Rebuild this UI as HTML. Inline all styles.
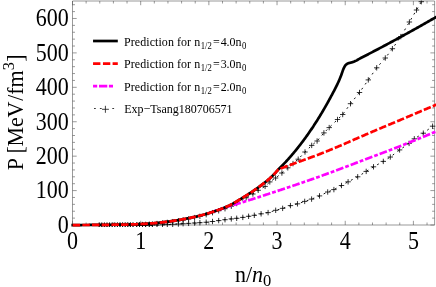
<!DOCTYPE html>
<html><head><meta charset="utf-8"><title>plot</title><style>
html,body{margin:0;padding:0;background:#fff;}
body{width:436px;height:287px;overflow:hidden;font-family:"Liberation Serif",serif;}
svg{display:block;will-change:transform;opacity:0.999}
text{font-family:"Liberation Serif",serif;fill:#000}
</style></head><body>
<svg width="436" height="287" viewBox="0 0 436 287">
<rect width="436" height="287" fill="#fff"/>
<defs><clipPath id="c"><rect x="70.5" y="0.5" width="365.5" height="226.5"/></clipPath></defs>
<!-- frame -->
<g fill="none" stroke="#555" stroke-width="0.6">
<path d="M72.5,1.0H434.6V225.0H72.5Z"/>
<path d="M72.50,225.0v-4.2M72.50,1.0v4.2M86.14,225.0v-2.5M86.14,1.0v2.5M99.77,225.0v-2.5M99.77,1.0v2.5M113.41,225.0v-2.5M113.41,1.0v2.5M127.04,225.0v-2.5M127.04,1.0v2.5M140.68,225.0v-4.2M140.68,1.0v4.2M154.32,225.0v-2.5M154.32,1.0v2.5M167.95,225.0v-2.5M167.95,1.0v2.5M181.59,225.0v-2.5M181.59,1.0v2.5M195.22,225.0v-2.5M195.22,1.0v2.5M208.86,225.0v-4.2M208.86,1.0v4.2M222.50,225.0v-2.5M222.50,1.0v2.5M236.13,225.0v-2.5M236.13,1.0v2.5M249.77,225.0v-2.5M249.77,1.0v2.5M263.40,225.0v-2.5M263.40,1.0v2.5M277.04,225.0v-4.2M277.04,1.0v4.2M290.68,225.0v-2.5M290.68,1.0v2.5M304.31,225.0v-2.5M304.31,1.0v2.5M317.95,225.0v-2.5M317.95,1.0v2.5M331.58,225.0v-2.5M331.58,1.0v2.5M345.22,225.0v-4.2M345.22,1.0v4.2M358.86,225.0v-2.5M358.86,1.0v2.5M372.49,225.0v-2.5M372.49,1.0v2.5M386.13,225.0v-2.5M386.13,1.0v2.5M399.76,225.0v-2.5M399.76,1.0v2.5M413.40,225.0v-4.2M413.40,1.0v4.2M427.04,225.0v-2.5M427.04,1.0v2.5M72.5,225.00h4.2M434.6,225.00h-4.2M72.5,218.12h2.5M434.6,218.12h-2.5M72.5,211.23h2.5M434.6,211.23h-2.5M72.5,204.35h2.5M434.6,204.35h-2.5M72.5,197.46h2.5M434.6,197.46h-2.5M72.5,190.58h4.2M434.6,190.58h-4.2M72.5,183.70h2.5M434.6,183.70h-2.5M72.5,176.81h2.5M434.6,176.81h-2.5M72.5,169.93h2.5M434.6,169.93h-2.5M72.5,163.04h2.5M434.6,163.04h-2.5M72.5,156.16h4.2M434.6,156.16h-4.2M72.5,149.28h2.5M434.6,149.28h-2.5M72.5,142.39h2.5M434.6,142.39h-2.5M72.5,135.51h2.5M434.6,135.51h-2.5M72.5,128.62h2.5M434.6,128.62h-2.5M72.5,121.74h4.2M434.6,121.74h-4.2M72.5,114.86h2.5M434.6,114.86h-2.5M72.5,107.97h2.5M434.6,107.97h-2.5M72.5,101.09h2.5M434.6,101.09h-2.5M72.5,94.20h2.5M434.6,94.20h-2.5M72.5,87.32h4.2M434.6,87.32h-4.2M72.5,80.44h2.5M434.6,80.44h-2.5M72.5,73.55h2.5M434.6,73.55h-2.5M72.5,66.67h2.5M434.6,66.67h-2.5M72.5,59.78h2.5M434.6,59.78h-2.5M72.5,52.90h4.2M434.6,52.90h-4.2M72.5,46.02h2.5M434.6,46.02h-2.5M72.5,39.13h2.5M434.6,39.13h-2.5M72.5,32.25h2.5M434.6,32.25h-2.5M72.5,25.36h2.5M434.6,25.36h-2.5M72.5,18.48h4.2M434.6,18.48h-4.2M72.5,11.60h2.5M434.6,11.60h-2.5M72.5,4.71h2.5M434.6,4.71h-2.5"/>
</g>
<!-- tick labels -->
<g font-size="22"><text transform="translate(72.50,248.9) scale(1,1.1)" text-anchor="middle">0</text><text transform="translate(140.68,248.9) scale(1,1.1)" text-anchor="middle">1</text><text transform="translate(208.86,248.9) scale(1,1.1)" text-anchor="middle">2</text><text transform="translate(277.04,248.9) scale(1,1.1)" text-anchor="middle">3</text><text transform="translate(345.22,248.9) scale(1,1.1)" text-anchor="middle">4</text><text transform="translate(413.40,248.9) scale(1,1.1)" text-anchor="middle">5</text><text transform="translate(68.7,232.90) scale(1,1.1)" text-anchor="end">0</text><text transform="translate(68.7,198.48) scale(1,1.1)" text-anchor="end">100</text><text transform="translate(68.7,164.06) scale(1,1.1)" text-anchor="end">200</text><text transform="translate(68.7,129.64) scale(1,1.1)" text-anchor="end">300</text><text transform="translate(68.7,95.22) scale(1,1.1)" text-anchor="end">400</text><text transform="translate(68.7,60.80) scale(1,1.1)" text-anchor="end">500</text><text transform="translate(68.7,26.38) scale(1,1.1)" text-anchor="end">600</text></g>
<!-- axis labels -->
<text font-size="22" transform="translate(235,282.3) scale(1,1.05)">n/<tspan font-style="italic">n</tspan><tspan font-size="16.5" dy="3.5">0</tspan></text>
<text font-size="22" transform="translate(23,170.2) rotate(-90) scale(1,1.07)">P<tspan dx="-1.1"> [</tspan><tspan dx="-0.3">Me</tspan><tspan dx="-0.3">V</tspan><tspan dx="0.8">/fm</tspan><tspan font-size="16.5" dy="-8.7">3</tspan><tspan dy="8.7" dx="0.2">]</tspan></text>
<!-- curves -->
<g clip-path="url(#c)" fill="none" stroke-linejoin="round">
<path d="M99.20,225.50 L101.80,225.50 L104.40,225.50 L107.00,225.50 L109.60,225.50 L112.20,225.50 L114.80,225.50 L117.40,225.50 L120.00,225.50 L122.60,225.50 L125.20,225.50 L127.80,225.50 L130.40,225.50 L133.00,225.50 L136.70,225.50 L139.50,225.50 L142.50,225.44 L145.60,225.36 L149.30,225.27 L152.40,225.14 L157.00,225.02 L162.50,224.80 L167.30,224.60 L172.70,224.30 L178.40,224.00 L183.10,223.70 L188.60,223.35 L194.60,223.00 L199.90,222.70 L206.20,222.25 L212.50,221.50 L218.70,220.60 L225.00,219.70 L231.30,218.90 L236.70,218.30 L242.80,217.40 L248.60,216.30 L254.30,215.30 L261.10,213.80 L268.10,212.60 L275.70,210.30 L282.64,208.35 L290.45,205.61 L297.46,203.84 L304.70,201.40 L311.60,199.10 L319.50,195.90 L327.70,192.00 L333.90,189.60 L341.50,185.50 L348.10,181.80 L357.70,176.80 L366.20,171.40 L373.50,166.80 L383.30,161.40 L390.30,157.00 L399.60,149.90 L409.10,143.40 L414.30,138.80 L423.30,133.20 L432.60,126.20" stroke="#000" stroke-width="0.95" stroke-dasharray="1.9 4.2" stroke-dashoffset="3.34"/>
<path d="M99.20,225.18 L101.80,225.15 L104.40,225.13 L107.00,225.10 L109.60,225.07 L112.20,225.04 L114.80,225.00 L117.40,224.97 L120.00,224.93 L122.60,224.93 L125.20,224.92 L127.80,224.90 L130.40,224.88 L133.00,224.84 L136.70,224.75 L139.50,224.66 L142.50,224.55 L145.60,224.41 L149.30,224.23 L152.40,224.01 L157.00,223.58 L162.50,222.99 L167.30,222.42 L172.70,221.67 L178.40,220.76 L183.10,219.94 L188.60,218.89 L194.60,217.61 L199.90,216.35 L206.20,214.65 L212.50,212.67 L218.70,210.77 L225.00,208.72 L231.30,206.21 L236.70,203.51 L246.20,197.80 L252.90,194.00 L258.20,190.30 L265.10,186.40 L269.80,181.90 L275.60,178.00 L281.90,173.00 L287.80,167.80 L293.00,163.60 L298.20,159.20 L305.00,152.00 L311.70,145.40 L317.10,141.00 L323.90,132.90 L329.20,127.60 L337.50,119.50 L342.70,114.50 L350.50,103.70 L359.50,92.50 L368.30,79.90 L376.70,67.80 L385.30,58.00 L392.40,48.70 L400.80,36.60 L409.40,22.00 L416.50,10.00 L421.30,1.70" stroke="#000" stroke-width="0.95" stroke-dasharray="1.9 4.2"/>
<path d="M96.50,225.50H101.90M99.20,222.80V228.20M99.10,225.50H104.50M101.80,222.80V228.20M101.70,225.50H107.10M104.40,222.80V228.20M104.30,225.50H109.70M107.00,222.80V228.20M106.90,225.50H112.30M109.60,222.80V228.20M109.50,225.50H114.90M112.20,222.80V228.20M112.10,225.50H117.50M114.80,222.80V228.20M114.70,225.50H120.10M117.40,222.80V228.20M117.30,225.50H122.70M120.00,222.80V228.20M119.90,225.50H125.30M122.60,222.80V228.20M122.50,225.50H127.90M125.20,222.80V228.20M125.10,225.50H130.50M127.80,222.80V228.20M127.70,225.50H133.10M130.40,222.80V228.20M130.30,225.50H135.70M133.00,222.80V228.20M134.00,225.50H139.40M136.70,222.80V228.20M136.80,225.50H142.20M139.50,222.80V228.20M139.80,225.44H145.20M142.50,222.74V228.14M142.90,225.36H148.30M145.60,222.66V228.06M146.60,225.27H152.00M149.30,222.57V227.97M149.70,225.14H155.10M152.40,222.44V227.84M154.30,225.02H159.70M157.00,222.32V227.72M159.80,224.80H165.20M162.50,222.10V227.50M164.60,224.60H170.00M167.30,221.90V227.30M170.00,224.30H175.40M172.70,221.60V227.00M175.70,224.00H181.10M178.40,221.30V226.70M180.40,223.70H185.80M183.10,221.00V226.40M185.90,223.35H191.30M188.60,220.65V226.05M191.90,223.00H197.30M194.60,220.30V225.70M197.20,222.70H202.60M199.90,220.00V225.40M203.50,222.25H208.90M206.20,219.55V224.95M209.80,221.50H215.20M212.50,218.80V224.20M216.00,220.60H221.40M218.70,217.90V223.30M222.30,219.70H227.70M225.00,217.00V222.40M228.60,218.90H234.00M231.30,216.20V221.60M234.00,218.30H239.40M236.70,215.60V221.00M240.10,217.40H245.50M242.80,214.70V220.10M245.90,216.30H251.30M248.60,213.60V219.00M251.60,215.30H257.00M254.30,212.60V218.00M258.40,213.80H263.80M261.10,211.10V216.50M265.40,212.60H270.80M268.10,209.90V215.30M273.00,210.30H278.40M275.70,207.60V213.00M279.94,208.35H285.34M282.64,205.65V211.05M287.75,205.61H293.15M290.45,202.91V208.31M294.76,203.84H300.16M297.46,201.14V206.54M302.00,201.40H307.40M304.70,198.70V204.10M308.90,199.10H314.30M311.60,196.40V201.80M316.80,195.90H322.20M319.50,193.20V198.60M325.00,192.00H330.40M327.70,189.30V194.70M331.20,189.60H336.60M333.90,186.90V192.30M338.80,185.50H344.20M341.50,182.80V188.20M345.40,181.80H350.80M348.10,179.10V184.50M355.00,176.80H360.40M357.70,174.10V179.50M363.50,171.40H368.90M366.20,168.70V174.10M370.80,166.80H376.20M373.50,164.10V169.50M380.60,161.40H386.00M383.30,158.70V164.10M387.60,157.00H393.00M390.30,154.30V159.70M396.90,149.90H402.30M399.60,147.20V152.60M406.40,143.40H411.80M409.10,140.70V146.10M411.60,138.80H417.00M414.30,136.10V141.50M420.60,133.20H426.00M423.30,130.50V135.90M429.90,126.20H435.30M432.60,123.50V128.90M96.50,225.18H101.90M99.20,222.48V227.88M99.10,225.15H104.50M101.80,222.45V227.85M101.70,225.13H107.10M104.40,222.43V227.83M104.30,225.10H109.70M107.00,222.40V227.80M106.90,225.07H112.30M109.60,222.37V227.77M109.50,225.04H114.90M112.20,222.34V227.74M112.10,225.00H117.50M114.80,222.30V227.70M114.70,224.97H120.10M117.40,222.27V227.67M117.30,224.93H122.70M120.00,222.23V227.63M119.90,224.93H125.30M122.60,222.23V227.63M122.50,224.92H127.90M125.20,222.22V227.62M125.10,224.90H130.50M127.80,222.20V227.60M127.70,224.88H133.10M130.40,222.18V227.58M130.30,224.84H135.70M133.00,222.14V227.54M134.00,224.75H139.40M136.70,222.05V227.45M136.80,224.66H142.20M139.50,221.96V227.36M139.80,224.55H145.20M142.50,221.85V227.25M142.90,224.41H148.30M145.60,221.71V227.11M146.60,224.23H152.00M149.30,221.53V226.93M149.70,224.01H155.10M152.40,221.31V226.71M154.30,223.58H159.70M157.00,220.88V226.28M159.80,222.99H165.20M162.50,220.29V225.69M164.60,222.42H170.00M167.30,219.72V225.12M170.00,221.67H175.40M172.70,218.97V224.37M175.70,220.76H181.10M178.40,218.06V223.46M180.40,219.94H185.80M183.10,217.24V222.64M185.90,218.89H191.30M188.60,216.19V221.59M191.90,217.61H197.30M194.60,214.91V220.31M197.20,216.35H202.60M199.90,213.65V219.05M203.50,214.65H208.90M206.20,211.95V217.35M209.80,212.67H215.20M212.50,209.97V215.37M216.00,210.77H221.40M218.70,208.07V213.47M222.30,208.72H227.70M225.00,206.02V211.42M228.60,206.21H234.00M231.30,203.51V208.91M234.00,203.51H239.40M236.70,200.81V206.21M243.50,197.80H248.90M246.20,195.10V200.50M250.20,194.00H255.60M252.90,191.30V196.70M255.50,190.30H260.90M258.20,187.60V193.00M262.40,186.40H267.80M265.10,183.70V189.10M267.10,181.90H272.50M269.80,179.20V184.60M272.90,178.00H278.30M275.60,175.30V180.70M279.20,173.00H284.60M281.90,170.30V175.70M285.10,167.80H290.50M287.80,165.10V170.50M290.30,163.60H295.70M293.00,160.90V166.30M295.50,159.20H300.90M298.20,156.50V161.90M302.30,152.00H307.70M305.00,149.30V154.70M309.00,145.40H314.40M311.70,142.70V148.10M314.40,141.00H319.80M317.10,138.30V143.70M321.20,132.90H326.60M323.90,130.20V135.60M326.50,127.60H331.90M329.20,124.90V130.30M334.80,119.50H340.20M337.50,116.80V122.20M340.00,114.50H345.40M342.70,111.80V117.20M347.80,103.70H353.20M350.50,101.00V106.40M356.80,92.50H362.20M359.50,89.80V95.20M365.60,79.90H371.00M368.30,77.20V82.60M374.00,67.80H379.40M376.70,65.10V70.50M382.60,58.00H388.00M385.30,55.30V60.70M389.70,48.70H395.10M392.40,46.00V51.40M398.10,36.60H403.50M400.80,33.90V39.30M406.70,22.00H412.10M409.40,19.30V24.70M413.80,10.00H419.20M416.50,7.30V12.70M418.60,1.70H424.00M421.30,-1.00V4.40" stroke="#000" stroke-width="0.8"/>
<path d="M209.50,212.90 L210.50,212.56 L211.50,212.21 L212.50,211.87 L213.50,211.53 L214.50,211.19 L215.50,210.85 L216.50,210.51 L217.50,210.18 L218.50,209.84 L219.50,209.51 L220.50,209.18 L221.50,208.85 L222.50,208.52 L223.50,208.19 L224.50,207.86 L225.50,207.54 L226.50,207.22 L227.50,206.90 L228.50,206.58 L229.50,206.26 L230.50,205.95 L231.50,205.64 L232.50,205.32 L233.50,205.01 L234.50,204.71 L235.50,204.40 L236.50,204.09 L237.50,203.78 L238.50,203.47 L239.50,203.17 L240.50,202.86 L241.50,202.55 L242.50,202.24 L243.50,201.94 L244.50,201.63 L245.50,201.31 L246.50,201.00 L247.50,200.69 L248.50,200.38 L249.50,200.06 L250.50,199.74 L251.50,199.42 L252.50,199.10 L253.50,198.78 L254.50,198.46 L255.50,198.14 L256.50,197.82 L257.50,197.50 L258.50,197.17 L259.50,196.85 L260.50,196.53 L261.50,196.20 L262.50,195.88 L263.50,195.55 L264.50,195.23 L265.50,194.90 L266.50,194.57 L267.50,194.25 L268.50,193.92 L269.50,193.59 L270.50,193.26 L271.50,192.93 L272.50,192.60 L273.50,192.27 L274.50,191.94 L275.50,191.60 L276.50,191.27 L277.50,190.94 L278.50,190.61 L279.50,190.28 L280.50,189.94 L281.50,189.61 L282.50,189.28 L283.50,188.95 L284.50,188.61 L285.50,188.28 L286.50,187.94 L287.50,187.61 L288.50,187.27 L289.50,186.94 L290.50,186.60 L291.50,186.26 L292.50,185.93 L293.50,185.59 L294.50,185.25 L295.50,184.91 L296.50,184.57 L297.50,184.23 L298.50,183.89 L299.50,183.55 L300.50,183.21 L301.50,182.86 L302.50,182.52 L303.50,182.18 L304.50,181.83 L305.50,181.48 L306.50,181.14 L307.50,180.79 L308.50,180.44 L309.50,180.09 L310.50,179.74 L311.50,179.39 L312.50,179.04 L313.50,178.69 L314.50,178.33 L315.50,177.98 L316.50,177.62 L317.50,177.26 L318.50,176.91 L319.50,176.55 L320.50,176.18 L321.50,175.82 L322.50,175.46 L323.50,175.10 L324.50,174.73 L325.50,174.37 L326.50,174.00 L327.50,173.63 L328.50,173.26 L329.50,172.90 L330.50,172.53 L331.50,172.16 L332.50,171.79 L333.50,171.42 L334.50,171.05 L335.50,170.67 L336.50,170.30 L337.50,169.93 L338.50,169.56 L339.50,169.19 L340.50,168.81 L341.50,168.44 L342.50,168.07 L343.50,167.69 L344.50,167.31 L345.50,166.94 L346.50,166.56 L347.50,166.18 L348.50,165.80 L349.50,165.42 L350.50,165.04 L351.50,164.66 L352.50,164.27 L353.50,163.89 L354.50,163.51 L355.50,163.13 L356.50,162.75 L357.50,162.37 L358.50,161.98 L359.50,161.60 L360.50,161.22 L361.50,160.84 L362.50,160.46 L363.50,160.08 L364.50,159.70 L365.50,159.33 L366.50,158.95 L367.50,158.57 L368.50,158.19 L369.50,157.82 L370.50,157.44 L371.50,157.06 L372.50,156.69 L373.50,156.31 L374.50,155.94 L375.50,155.56 L376.50,155.18 L377.50,154.81 L378.50,154.43 L379.50,154.06 L380.50,153.68 L381.50,153.30 L382.50,152.93 L383.50,152.55 L384.50,152.17 L385.50,151.79 L386.50,151.41 L387.50,151.03 L388.50,150.65 L389.50,150.27 L390.50,149.89 L391.50,149.50 L392.50,149.12 L393.50,148.73 L394.50,148.35 L395.50,147.96 L396.50,147.57 L397.50,147.18 L398.50,146.79 L399.50,146.40 L400.50,146.00 L401.50,145.61 L402.50,145.21 L403.50,144.82 L404.50,144.42 L405.50,144.02 L406.50,143.62 L407.50,143.22 L408.50,142.82 L409.50,142.42 L410.50,142.02 L411.50,141.62 L412.50,141.21 L413.50,140.81 L414.50,140.40 L415.50,140.00 L416.50,139.59 L417.50,139.18 L418.50,138.78 L419.50,138.37 L420.50,137.96 L421.50,137.55 L422.50,137.14 L423.50,136.72 L424.50,136.31 L425.50,135.90 L426.50,135.48 L427.50,135.07 L428.50,134.65 L429.50,134.24 L430.50,133.82 L431.50,133.40 L432.50,132.98 L433.50,132.56 L434.50,132.14 L435.50,131.72 L436.50,131.30" stroke="#ff00ff" stroke-width="2.7" stroke-dasharray="7.7 2.0 3.8 2.0" stroke-dashoffset="5.91"/>
<path d="M71.40,225.10 L72.40,225.09 L73.40,225.09 L74.40,225.08 L75.40,225.07 L76.40,225.07 L77.40,225.06 L78.40,225.05 L79.40,225.05 L80.40,225.04 L81.40,225.03 L82.40,225.02 L83.40,225.02 L84.40,225.01 L85.40,225.00 L86.40,224.99 L87.40,224.98 L88.40,224.98 L89.40,224.97 L90.40,224.96 L91.40,224.95 L92.40,224.94 L93.40,224.93 L94.40,224.92 L95.40,224.91 L96.40,224.90 L97.40,224.89 L98.40,224.89 L99.40,224.88 L100.40,224.87 L101.40,224.86 L102.40,224.85 L103.40,224.84 L104.40,224.83 L105.40,224.82 L106.40,224.80 L107.40,224.79 L108.40,224.78 L109.40,224.77 L110.40,224.76 L111.40,224.75 L112.40,224.73 L113.40,224.72 L114.40,224.71 L115.40,224.69 L116.40,224.68 L117.40,224.67 L118.40,224.65 L119.40,224.64 L120.40,224.63 L121.40,224.61 L122.40,224.60 L123.40,224.58 L124.40,224.56 L125.40,224.55 L126.40,224.53 L127.40,224.51 L128.40,224.49 L129.40,224.46 L130.40,224.44 L131.40,224.41 L132.40,224.38 L133.40,224.35 L134.40,224.32 L135.40,224.28 L136.40,224.24 L137.40,224.20 L138.40,224.15 L139.40,224.10 L140.40,224.06 L141.40,224.00 L142.40,223.95 L143.40,223.90 L144.40,223.84 L145.40,223.78 L146.40,223.72 L147.40,223.66 L148.40,223.60 L149.40,223.53 L150.40,223.46 L151.40,223.39 L152.40,223.31 L153.40,223.22 L154.40,223.13 L155.40,223.04 L156.40,222.94 L157.40,222.84 L158.40,222.74 L159.40,222.63 L160.40,222.52 L161.40,222.41 L162.40,222.30 L163.40,222.18 L164.40,222.07 L165.40,221.95 L166.40,221.83 L167.40,221.70 L168.40,221.57 L169.40,221.44 L170.40,221.30 L171.40,221.16 L172.40,221.01 L173.40,220.86 L174.40,220.71 L175.40,220.55 L176.40,220.39 L177.40,220.22 L178.40,220.06 L179.40,219.89 L180.40,219.71 L181.40,219.54 L182.40,219.36 L183.40,219.18 L184.40,219.00 L185.40,218.81 L186.40,218.62 L187.40,218.43 L188.40,218.23 L189.40,218.03 L190.40,217.82 L191.40,217.61 L192.40,217.40 L193.40,217.18 L194.40,216.96 L195.40,216.73 L196.40,216.50 L197.40,216.26 L198.40,216.02 L199.40,215.78 L200.40,215.53 L201.40,215.27 L202.40,215.01 L203.40,214.74 L204.40,214.46 L205.40,214.18 L206.40,213.89 L207.40,213.59 L208.40,213.28 L209.40,212.97 L210.40,212.66 L211.40,212.33 L212.40,212.01 L213.40,211.67 L214.40,211.34 L215.40,210.99 L216.40,210.65 L217.40,210.30 L218.40,209.94 L219.40,209.57 L220.40,209.20 L221.40,208.82 L222.40,208.43 L223.40,208.04 L224.40,207.63 L225.40,207.21 L226.40,206.78 L227.40,206.34 L228.40,205.89 L229.40,205.42 L230.40,204.92 L231.40,204.41 L232.40,203.88 L233.40,203.32 L234.40,202.76 L235.40,202.18 L236.40,201.59 L237.40,200.99 L238.40,200.38 L239.40,199.77 L240.40,199.16 L241.40,198.54 L242.40,197.93 L243.40,197.32 L244.40,196.70 L245.40,196.08 L246.40,195.44 L247.40,194.80 L248.40,194.16 L249.40,193.50 L250.40,192.85 L251.40,192.18 L252.40,191.51 L253.40,190.84 L254.40,190.16 L255.40,189.48 L256.40,188.78 L257.40,188.08 L258.40,187.37 L259.40,186.65 L260.40,185.92 L261.40,185.18 L262.40,184.42 L263.40,183.65 L264.40,182.87 L265.40,182.08 L266.40,181.27 L267.40,180.45 L268.40,179.61 L269.40,178.76 L270.40,177.86 L271.40,176.92 L272.40,175.93 L273.40,174.92 L274.40,173.88 L275.40,172.79 L276.40,171.68 L277.40,170.52 L278.30,169.45 L278.80,168.97 L279.30,168.48 L279.80,167.99 L280.30,167.50 L280.80,167.00 L281.30,166.50 L281.80,165.99 L282.30,165.48 L282.80,164.97 L283.30,164.45 L283.80,163.93 L284.30,163.40 L284.80,162.87 L285.30,162.34 L285.80,161.80 L286.30,161.25 L286.80,160.71 L287.30,160.16 L287.80,159.60 L288.30,159.04 L288.80,158.48 L289.30,157.92 L289.80,157.35 L290.30,156.78 L290.80,156.21 L291.30,155.63 L291.80,155.05 L292.30,154.47 L292.80,153.88 L293.30,153.29 L293.80,152.69 L294.30,152.09 L294.80,151.49 L295.30,150.88 L295.80,150.27 L296.30,149.66 L296.80,149.04 L297.30,148.42 L297.80,147.79 L298.30,147.16 L298.80,146.53 L299.30,145.89 L299.80,145.25 L300.30,144.61 L300.80,143.96 L301.30,143.30 L301.80,142.65 L302.30,141.99 L302.80,141.32 L303.30,140.65 L303.80,139.98 L304.30,139.30 L304.80,138.62 L305.30,137.93 L305.80,137.24 L306.30,136.55 L306.80,135.85 L307.30,135.15 L307.80,134.44 L308.30,133.73 L308.80,133.02 L309.30,132.30 L309.80,131.57 L310.30,130.84 L310.80,130.11 L311.30,129.37 L311.80,128.63 L312.30,127.88 L312.80,127.13 L313.30,126.38 L313.80,125.62 L314.30,124.85 L314.80,124.08 L315.30,123.31 L315.80,122.53 L316.30,121.75 L316.80,120.96 L317.30,120.17 L317.80,119.37 L318.30,118.57 L318.80,117.76 L319.30,116.95 L319.80,116.13 L320.30,115.31 L320.80,114.49 L321.30,113.66 L321.80,112.82 L322.30,111.98 L322.80,111.13 L323.30,110.28 L323.80,109.43 L324.30,108.57 L324.80,107.70 L325.30,106.83 L325.80,105.95 L326.30,105.07 L326.80,104.19 L327.30,103.30 L327.80,102.40 L328.30,101.50 L328.80,100.59 L329.30,99.68 L329.80,98.76 L330.30,97.84 L330.80,96.91 L331.30,95.98 L331.80,95.04 L332.30,94.10 L332.80,93.16 L333.30,92.22 L333.80,91.28 L334.30,90.32 L334.80,89.36 L335.30,88.39 L335.80,87.40 L336.30,86.40 L336.80,85.38 L337.30,84.34 L337.80,83.28 L338.30,82.20 L338.80,81.10 L339.30,79.96 L339.80,78.78 L340.30,77.56 L340.80,76.26 L341.30,74.92 L341.80,73.55 L342.30,72.14 L342.80,70.63 L343.30,69.24 L343.80,68.12 L344.30,67.14 L344.80,66.25 L345.30,65.46 L345.80,64.87 L346.30,64.40 L346.80,64.04 L347.30,63.74 L347.80,63.50 L348.30,63.30 L348.80,63.14 L349.30,63.00 L349.80,62.88 L350.30,62.75 L350.80,62.62 L351.30,62.50 L351.80,62.37 L352.30,62.23 L352.80,62.07 L353.30,61.90 L353.80,61.71 L354.30,61.51 L354.80,61.30 L355.30,61.08 L355.80,60.85 L356.30,60.60 L356.80,60.33 L357.30,60.04 L357.80,59.74 L358.30,59.44 L358.80,59.14 L359.30,58.85 L359.80,58.58 L360.30,58.32 L360.80,58.05 L361.30,57.79 L361.80,57.54 L362.30,57.28 L362.80,57.03 L363.30,56.77 L363.80,56.52 L364.30,56.26 L364.80,56.00 L365.30,55.74 L365.80,55.48 L366.30,55.22 L366.80,54.96 L367.30,54.70 L367.80,54.44 L368.30,54.18 L368.80,53.92 L369.30,53.66 L369.80,53.40 L370.30,53.14 L370.80,52.88 L371.30,52.62 L371.80,52.36 L372.30,52.10 L372.80,51.83 L373.30,51.57 L373.80,51.31 L374.30,51.05 L374.80,50.79 L375.30,50.53 L375.80,50.26 L376.30,50.00 L376.80,49.74 L377.30,49.48 L377.80,49.21 L378.30,48.95 L378.80,48.69 L379.30,48.42 L379.80,48.16 L380.30,47.90 L380.80,47.63 L381.30,47.37 L381.80,47.10 L382.30,46.84 L382.80,46.57 L383.30,46.31 L383.80,46.04 L384.30,45.77 L384.80,45.51 L385.30,45.24 L385.80,44.97 L386.30,44.71 L386.80,44.44 L387.30,44.17 L387.80,43.90 L388.30,43.63 L388.80,43.37 L389.30,43.10 L389.80,42.83 L390.30,42.56 L390.80,42.29 L391.30,42.02 L391.80,41.75 L392.30,41.49 L392.80,41.22 L393.30,40.95 L393.80,40.68 L394.30,40.41 L394.80,40.14 L395.30,39.87 L395.80,39.60 L396.30,39.32 L396.80,39.05 L397.30,38.78 L397.80,38.51 L398.30,38.24 L398.80,37.97 L399.30,37.70 L399.80,37.42 L400.30,37.15 L400.80,36.88 L401.30,36.61 L401.80,36.33 L402.30,36.06 L402.80,35.79 L403.30,35.51 L403.80,35.24 L404.30,34.97 L404.80,34.69 L405.30,34.42 L405.80,34.14 L406.30,33.87 L406.80,33.59 L407.30,33.32 L407.80,33.04 L408.30,32.77 L408.80,32.49 L409.30,32.22 L409.80,31.94 L410.30,31.66 L410.80,31.39 L411.30,31.11 L411.80,30.83 L412.30,30.56 L412.80,30.28 L413.30,30.00 L413.80,29.72 L414.30,29.44 L414.80,29.16 L415.30,28.88 L415.80,28.60 L416.30,28.32 L416.80,28.04 L417.30,27.76 L417.80,27.48 L418.30,27.20 L418.80,26.92 L419.30,26.63 L419.80,26.35 L420.30,26.07 L420.80,25.78 L421.30,25.50 L421.80,25.22 L422.30,24.93 L422.80,24.65 L423.30,24.36 L423.80,24.08 L424.30,23.79 L424.80,23.51 L425.30,23.22 L425.80,22.94 L426.30,22.65 L426.80,22.37 L427.30,22.08 L427.80,21.80 L428.30,21.51 L428.80,21.23 L429.30,20.94 L429.80,20.66 L430.30,20.37 L430.80,20.09 L431.30,19.80 L431.80,19.52 L432.30,19.23 L432.80,18.95 L433.30,18.66 L433.80,18.38 L434.30,18.10 L434.80,17.81 L435.30,17.53 L435.80,17.25 L436.30,16.96 L436.50,16.85" stroke="#000" stroke-width="2.7"/>
<path d="M71.40,225.10 L72.40,225.09 L73.40,225.09 L74.40,225.08 L75.40,225.07 L76.40,225.07 L77.40,225.06 L78.40,225.05 L79.40,225.05 L80.40,225.04 L81.40,225.03 L82.40,225.02 L83.40,225.02 L84.40,225.01 L85.40,225.00 L86.40,224.99 L87.40,224.98 L88.40,224.98 L89.40,224.97 L90.40,224.96 L91.40,224.95 L92.40,224.94 L93.40,224.93 L94.40,224.92 L95.40,224.91 L96.40,224.90 L97.40,224.89 L98.40,224.89 L99.40,224.88 L100.40,224.87 L101.40,224.86 L102.40,224.85 L103.40,224.84 L104.40,224.83 L105.40,224.82 L106.40,224.80 L107.40,224.79 L108.40,224.78 L109.40,224.77 L110.40,224.76 L111.40,224.75 L112.40,224.73 L113.40,224.72 L114.40,224.71 L115.40,224.69 L116.40,224.68 L117.40,224.67 L118.40,224.65 L119.40,224.64 L120.40,224.63 L121.40,224.61 L122.40,224.60 L123.40,224.58 L124.40,224.56 L125.40,224.55 L126.40,224.53 L127.40,224.51 L128.40,224.49 L129.40,224.46 L130.40,224.44 L131.40,224.41 L132.40,224.38 L133.40,224.35 L134.40,224.32 L135.40,224.28 L136.40,224.24 L137.40,224.20 L138.40,224.15 L139.40,224.10 L140.40,224.06 L141.40,224.00 L142.40,223.95 L143.40,223.90 L144.40,223.84 L145.40,223.78 L146.40,223.72 L147.40,223.66 L148.40,223.60 L149.40,223.53 L150.40,223.46 L151.40,223.39 L152.40,223.31 L153.40,223.22 L154.40,223.13 L155.40,223.04 L156.40,222.94 L157.40,222.84 L158.40,222.74 L159.40,222.63 L160.40,222.52 L161.40,222.41 L162.40,222.30 L163.40,222.18 L164.40,222.07 L165.40,221.95 L166.40,221.83 L167.40,221.70 L168.40,221.57 L169.40,221.44 L170.40,221.30 L171.40,221.16 L172.40,221.01 L173.40,220.86 L174.40,220.71 L175.40,220.55 L176.40,220.39 L177.40,220.22 L178.40,220.06 L179.40,219.89 L180.40,219.71 L181.40,219.54 L182.40,219.36 L183.40,219.18 L184.40,219.00 L185.40,218.81 L186.40,218.62 L187.40,218.43 L188.40,218.23 L189.40,218.03 L190.40,217.82 L191.40,217.61 L192.40,217.40 L193.40,217.18 L194.40,216.96 L195.40,216.73 L196.40,216.50 L197.40,216.26 L198.40,216.02 L199.40,215.78 L200.40,215.53 L201.40,215.27 L202.40,215.01 L203.40,214.74 L204.40,214.46 L205.40,214.18 L206.40,213.89 L207.40,213.59 L208.40,213.28 L209.40,212.97 L210.40,212.66 L211.40,212.33 L212.40,212.01 L213.40,211.67 L214.40,211.34 L215.40,210.99 L216.40,210.65 L217.40,210.30 L218.40,209.94 L219.40,209.57 L220.40,209.20 L221.40,208.82 L222.40,208.43 L223.40,208.04 L224.40,207.63 L225.40,207.21 L226.40,206.78 L227.40,206.34 L228.40,205.89 L229.40,205.42 L230.40,204.92 L231.40,204.41 L232.40,203.88 L233.40,203.32 L234.40,202.76 L235.40,202.18 L236.40,201.59 L237.40,200.99 L238.40,200.38 L239.40,199.77 L240.40,199.16 L241.40,198.54 L242.40,197.93 L243.40,197.32 L244.40,196.70 L245.40,196.08 L246.40,195.44 L247.40,194.80 L248.40,194.16 L249.40,193.50 L250.40,192.85 L251.40,192.18 L252.40,191.51 L253.40,190.84 L254.40,190.16 L255.40,189.48 L256.40,188.78 L257.40,188.08 L258.40,187.37 L259.40,186.65 L260.40,185.92 L261.40,185.18 L262.40,184.42 L263.40,183.65 L264.40,182.87 L265.40,182.08 L266.40,181.27 L267.40,180.45 L268.40,179.61 L269.40,178.76 L270.40,177.86 L271.40,176.92 L272.40,175.93 L273.40,174.92 L274.40,173.88 L275.40,172.79 L276.40,171.68 L277.40,170.52 L278.30,169.45 L279.30,169.06 L280.30,168.67 L281.30,168.29 L282.30,167.91 L283.30,167.52 L284.30,167.14 L285.30,166.76 L286.30,166.39 L287.30,166.01 L288.30,165.64 L289.30,165.27 L290.30,164.90 L291.30,164.53 L292.30,164.17 L293.30,163.80 L294.30,163.44 L295.30,163.08 L296.30,162.72 L297.30,162.35 L298.30,161.99 L299.30,161.63 L300.30,161.26 L301.30,160.90 L302.30,160.54 L303.30,160.18 L304.30,159.81 L305.30,159.45 L306.30,159.09 L307.30,158.72 L308.30,158.36 L309.30,157.99 L310.30,157.62 L311.30,157.26 L312.30,156.89 L313.30,156.52 L314.30,156.15 L315.30,155.78 L316.30,155.41 L317.30,155.03 L318.30,154.65 L319.30,154.27 L320.30,153.88 L321.30,153.49 L322.30,153.10 L323.30,152.70 L324.30,152.30 L325.30,151.90 L326.30,151.50 L327.30,151.09 L328.30,150.69 L329.30,150.28 L330.30,149.86 L331.30,149.45 L332.30,149.04 L333.30,148.62 L334.30,148.20 L335.30,147.78 L336.30,147.36 L337.30,146.94 L338.30,146.52 L339.30,146.10 L340.30,145.67 L341.30,145.25 L342.30,144.82 L343.30,144.38 L344.30,143.95 L345.30,143.51 L346.30,143.07 L347.30,142.63 L348.30,142.19 L349.30,141.74 L350.30,141.30 L351.30,140.86 L352.30,140.42 L353.30,139.98 L354.30,139.54 L355.30,139.10 L356.30,138.67 L357.30,138.24 L358.30,137.80 L359.30,137.37 L360.30,136.94 L361.30,136.51 L362.30,136.07 L363.30,135.64 L364.30,135.21 L365.30,134.78 L366.30,134.35 L367.30,133.92 L368.30,133.49 L369.30,133.06 L370.30,132.63 L371.30,132.21 L372.30,131.78 L373.30,131.35 L374.30,130.92 L375.30,130.50 L376.30,130.07 L377.30,129.65 L378.30,129.22 L379.30,128.80 L380.30,128.37 L381.30,127.95 L382.30,127.53 L383.30,127.11 L384.30,126.69 L385.30,126.27 L386.30,125.86 L387.30,125.44 L388.30,125.02 L389.30,124.60 L390.30,124.19 L391.30,123.77 L392.30,123.35 L393.30,122.93 L394.30,122.52 L395.30,122.09 L396.30,121.67 L397.30,121.25 L398.30,120.83 L399.30,120.40 L400.30,119.98 L401.30,119.56 L402.30,119.13 L403.30,118.71 L404.30,118.28 L405.30,117.86 L406.30,117.43 L407.30,117.00 L408.30,116.58 L409.30,116.15 L410.30,115.73 L411.30,115.30 L412.30,114.87 L413.30,114.45 L414.30,114.02 L415.30,113.60 L416.30,113.17 L417.30,112.75 L418.30,112.32 L419.30,111.90 L420.30,111.47 L421.30,111.05 L422.30,110.63 L423.30,110.20 L424.30,109.78 L425.30,109.35 L426.30,108.93 L427.30,108.50 L428.30,108.08 L429.30,107.65 L430.30,107.23 L431.30,106.81 L432.30,106.38 L433.30,105.96 L434.30,105.53 L435.30,105.11 L436.30,104.68 L436.50,104.60" stroke="#ff0000" stroke-width="2.7" stroke-dasharray="7.45 2.23" stroke-dashoffset="8.40"/>
</g>
<!-- legend -->
<g fill="none" stroke-width="2.7">
<path d="M93.05,41H117.8" stroke="#000"/>
<path d="M93.05,63.7H100.4M102.95,63.7H110.3M112.6,63.7H117.8" stroke="#ff0000"/>
<path d="M93.05,86.2H97.2M99,86.2H107.3M108.9,86.2H113" stroke="#ff00ff"/>
</g>
<g fill="none" stroke="#222" stroke-width="0.9">
<path d="M94,108.5h1.8M99.9,108.5h1.8M112.3,108.5h1.8"/>
</g>
<path d="M102,109.3H108.9M105.4,105.8V112.8" fill="none" stroke="#111" stroke-width="0.8"/>
<g font-size="12">
<text transform="translate(124.1,45.9) scale(1,1.07)"><tspan letter-spacing="0.06">Prediction for n</tspan><tspan font-size="8.7" dy="3.0" dx="0.5">1/2</tspan><tspan dy="-3.0" dx="1.0">=</tspan><tspan dx="1.0">4.0n</tspan><tspan font-size="8.7" dy="3.0" dx="0.4">0</tspan></text>
<text transform="translate(124.1,67.9) scale(1,1.07)"><tspan letter-spacing="0.06">Prediction for n</tspan><tspan font-size="8.7" dy="3.0" dx="0.5">1/2</tspan><tspan dy="-3.0" dx="1.0">=</tspan><tspan dx="1.0">3.0n</tspan><tspan font-size="8.7" dy="3.0" dx="0.4">0</tspan></text>
<text transform="translate(124.1,90.9) scale(1,1.07)"><tspan letter-spacing="0.06">Prediction for n</tspan><tspan font-size="8.7" dy="3.0" dx="0.5">1/2</tspan><tspan dy="-3.0" dx="1.0">=</tspan><tspan dx="1.0">2.0n</tspan><tspan font-size="8.7" dy="3.0" dx="0.4">0</tspan></text>
<text transform="translate(124.2,113.3) scale(1,1.07)">Exp&#8722;Tsang180706571</text>
</g>
</svg>
</body></html>
